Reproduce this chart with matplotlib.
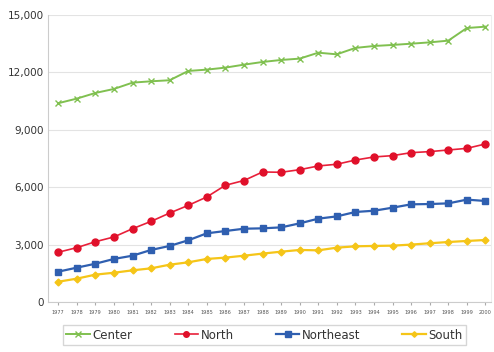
import matplotlib
matplotlib.use("Agg")
import matplotlib.pyplot as plt
from matplotlib.ticker import FuncFormatter

years = list(range(1977, 2001))
center = [10390, 10630, 10925, 11135, 11465, 11535, 11590, 12075, 12145, 12250,
          12405, 12545, 12650, 12720, 13030, 12945, 13280, 13380, 13435, 13500,
          13570, 13660, 14320, 14390]
north = [2600, 2840, 3150, 3400, 3830, 4215, 4650, 5050, 5490, 6100,
         6350, 6795, 6780, 6915, 7110, 7200, 7420, 7580, 7650, 7805,
         7860, 7945, 8030, 8260]
northeast = [1585, 1795, 2000, 2250, 2420, 2720, 2930, 3225, 3590, 3710,
             3830, 3850, 3900, 4110, 4355, 4475, 4705, 4770, 4930, 5105,
             5120, 5155, 5350, 5280]
south = [1060, 1220, 1430, 1530, 1655, 1760, 1950, 2075, 2250, 2320,
         2420, 2530, 2630, 2720, 2700, 2840, 2910, 2930, 2945, 3000,
         3070, 3135, 3190, 3240]
y_ticks = [0, 3000, 6000, 9000, 12000, 15000]

fig = plt.figure(figsize=(4.94, 3.52), dpi=100)
ax = fig.add_axes([48 / 494, 1 - 302 / 352, (491 - 48) / 494, (302 - 15) / 352])

ax.plot(years, center, color="#80c050", marker="x", markersize=5, lw=1.4,
        mew=1.0, label="Center")
ax.plot(years, north, color="#e8203a", marker="o", markersize=5, lw=1.2,
        markerfacecolor="#e0102a", markeredgecolor="#e0102a", label="North")
ax.plot(years, northeast, color="#2f5fb0", marker="s", markersize=5, lw=1.6,
        label="Northeast")
ax.plot(years, south, color="#f5c518", marker="D", markersize=3.5, lw=1.6,
        label="South")

ax.set_xlim(1976.45, 2000.3)
ax.set_ylim(0, 15000)
ax.set_yticks(y_ticks)
ax.yaxis.set_major_formatter(FuncFormatter(lambda v, p: f"{int(v):,}"))
ax.set_xticks(years)
ax.set_xticklabels([str(y) for y in years], fontsize=3.6, color="#555555")
ax.tick_params(axis="y", labelsize=7.5, colors="#333333", length=0, pad=3)
ax.tick_params(axis="x", length=2, color="#aaaaaa", pad=4)
ax.grid(axis="y", color="#e3e3e3", lw=0.8)
ax.set_axisbelow(True)
ax.spines["top"].set_visible(False)
ax.spines["right"].set_color("#eeeeee")
ax.spines["left"].set_color("#cccccc")
ax.spines["bottom"].set_color("#cccccc")

fig.legend(loc="lower left", bbox_to_anchor=(57 / 494, 1 / 352, (472 - 57) / 494, 24 / 352),
           ncol=4, mode="expand", frameon=True, fontsize=8.5, handlelength=2.0,
           handletextpad=0.2, borderpad=0.3, fancybox=False, edgecolor="#cccccc",
           labelcolor="#333333", markerscale=0.8)

fig.savefig("out.png", dpi=100)
